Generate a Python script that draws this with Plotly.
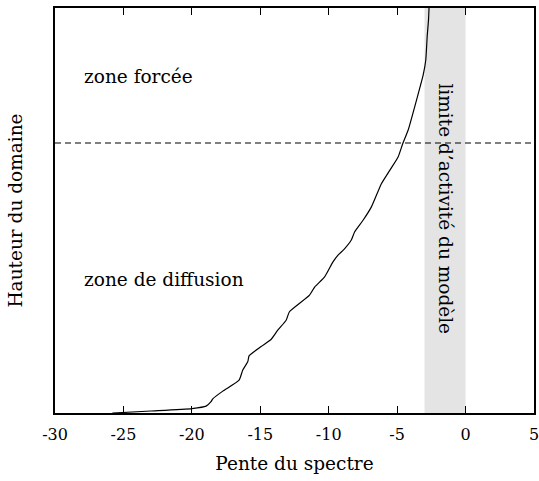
import plotly.graph_objects as go

# Spectral slope profile versus normalised domain height
slope = [-25.81, -22.99, -19.99, -18.96, -18.60, -18.47, -17.74, -16.55, -16.28,
         -15.91, -15.82, -14.94, -14.20, -13.71, -13.11, -12.87, -11.40, -11.03,
         -10.30, -9.69, -9.32, -8.88, -8.35, -8.11, -7.49, -6.88, -6.15, -5.54,
         -4.93, -4.58, -4.20, -3.59, -3.10, -2.91, -2.80, -2.71, -2.67]
height = [0.000, 0.005, 0.011, 0.017, 0.028, 0.035, 0.054, 0.081, 0.106,
          0.127, 0.141, 0.164, 0.182, 0.205, 0.229, 0.250, 0.291, 0.311,
          0.336, 0.373, 0.390, 0.404, 0.427, 0.447, 0.476, 0.509, 0.566, 0.599,
          0.632, 0.666, 0.698, 0.772, 0.834, 0.871, 0.932, 0.969, 1.000]

tick_vals = [-30, -25, -20, -15, -10, -5, 0, 5]
tick_text = ["-30", "-25", "-20", "-15", "-10", "-5", "0", "5"]

model_limit = [-3, 0]      # band where the model stops being active
forced_level = 2 / 3       # boundary between forced and diffusive zones

FONT = "DejaVu Serif"

fig = go.Figure()

fig.add_trace(go.Scatter(
    x=slope, y=height, mode="lines",
    line=dict(color="black", width=1.2, shape="spline", smoothing=0.5),
    showlegend=False, hoverinfo="skip",
))

# Shaded validity band
fig.add_shape(type="rect", xref="x", yref="y",
              x0=model_limit[0], x1=model_limit[1], y0=0, y1=1,
              fillcolor="#e4e4e4", line_width=0, layer="below")

# Forced / diffusion zone separator
fig.add_shape(type="line", xref="paper", yref="y",
              x0=0, x1=1, y0=forced_level, y1=forced_level,
              line=dict(color="black", width=1.1, dash="6px,4px"))

fig.add_annotation(x=-28, y=0.83, xref="x", yref="y", text="zone forcée",
                   showarrow=False, xanchor="left", yanchor="middle",
                   font=dict(family=FONT, size=18.5, color="black"))
fig.add_annotation(x=-28, y=0.33, xref="x", yref="y", text="zone de diffusion",
                   showarrow=False, xanchor="left", yanchor="middle",
                   font=dict(family=FONT, size=18.5, color="black"))
fig.add_annotation(x=sum(model_limit) / 2, y=0.505, xref="x", yref="y",
                   text="limite d’activité du modèle", textangle=90,
                   showarrow=False, xanchor="center", yanchor="middle",
                   font=dict(family=FONT, size=18.5, color="black"))

fig.update_xaxes(
    range=[-30, 5], tickvals=tick_vals, ticktext=tick_text,
    ticks="inside", ticklen=7, tickwidth=1, tickcolor="black",
    ticklabelstandoff=6, ticklabeloverflow="allow", automargin=False,
    showline=True, linecolor="black", linewidth=1.5, mirror="ticks",
    showgrid=False, zeroline=False,
    tickfont=dict(family=FONT, size=16, color="black"),
    title=dict(text="Pente du spectre", standoff=14,
               font=dict(family=FONT, size=18.5, color="black")),
)
fig.update_yaxes(
    range=[0, 1], showticklabels=False, ticks="", automargin=False,
    showline=True, linecolor="black", linewidth=1.5, mirror=True,
    showgrid=False, zeroline=False,
    title=dict(text="Hauteur du domaine", standoff=26,
               font=dict(family=FONT, size=18.5, color="black")),
)

fig.update_layout(
    width=539, height=481,
    margin=dict(l=55, r=5, t=8, b=68),
    plot_bgcolor="white", paper_bgcolor="white",
)

fig.write_html("out.html")
